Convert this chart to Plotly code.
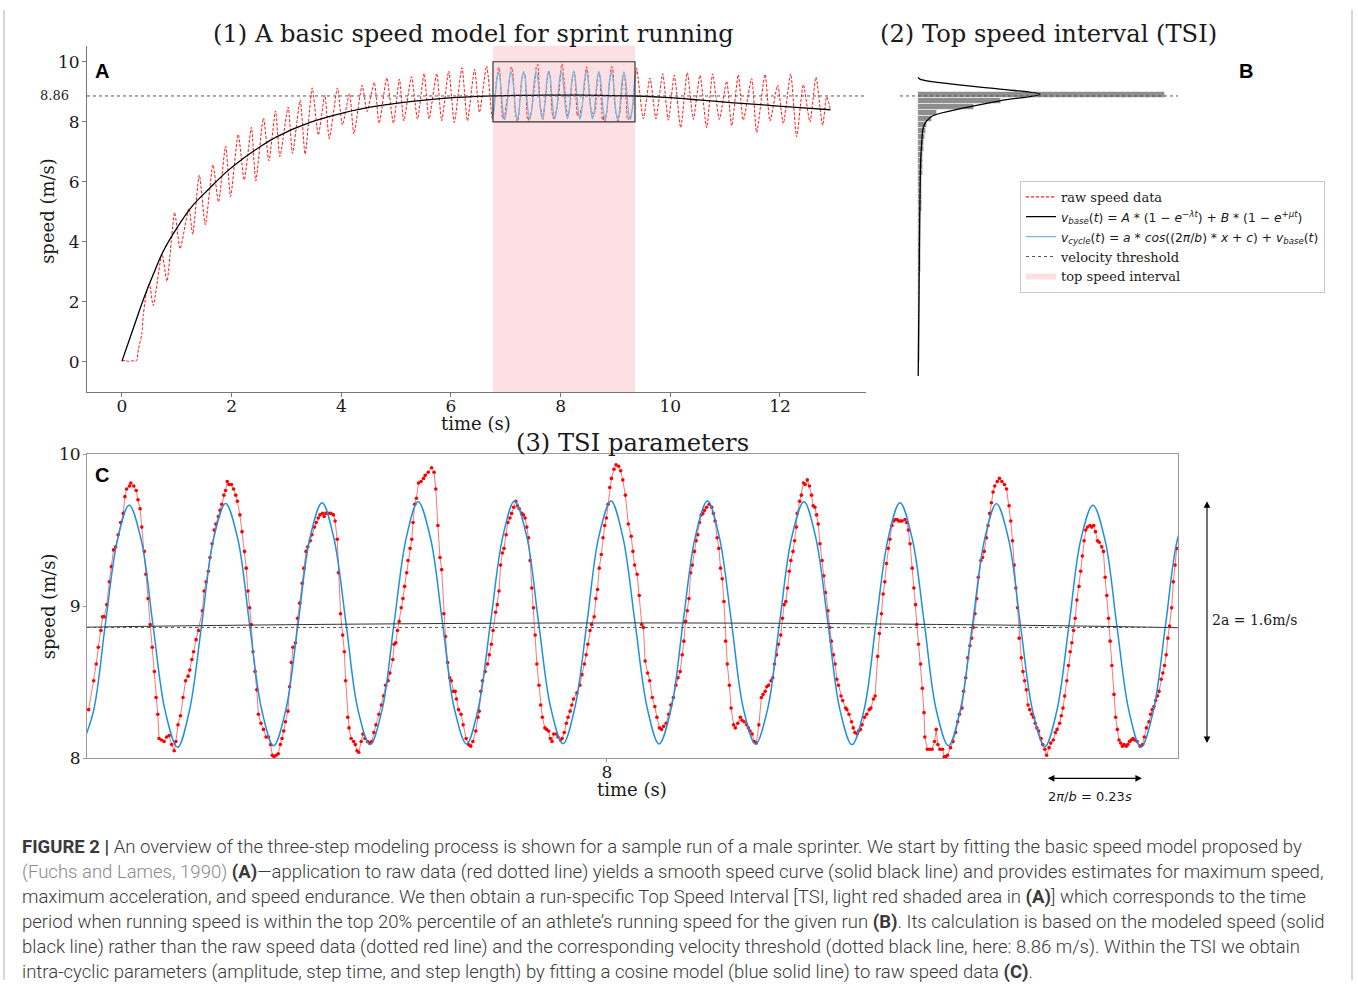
import plotly.graph_objects as go

W, H = 1358, 990
# the photographed page shows the figure slightly shifted / squeezed vertically;
# these two constants compensate so that layout positions land where intended
Y0, SY = 9.3, 0.979
def fx(p):
    return p / W
def fy(p):
    return 1 - ((p - Y0) / SY) / H

SERIF = "DejaVu Serif"
SANS = "DejaVu Sans"

# ------------------------------------------------------------------ data
tsi_start, tsi_end = 6.766, 9.356
threshold = 8.86

x_ticks_a = [0, 2, 4, 6, 8, 10, 12]
y_ticks_a = [0, 2, 4, 6, 8, 10]
x_ticks_c = [8]
y_ticks_c = [8, 9, 10]

# modeled base speed v_base(t)
base_t = [0.00, 0.21, 0.39, 0.57, 0.75, 1.00, 1.30, 1.60, 1.91, 2.21, 2.52, 2.82, 3.43, 4.04,
          4.64, 5.25, 5.86, 6.40, 6.77, 7.40, 8.06, 8.70, 9.36, 9.90, 10.50, 11.10, 11.70, 12.30, 12.92]
base_v = [0.03, 1.14, 2.08, 2.91, 3.68, 4.46, 5.23, 5.79, 6.34, 6.78, 7.17, 7.50, 7.98, 8.30,
          8.52, 8.67, 8.78, 8.84, 8.862, 8.882, 8.890, 8.882, 8.858, 8.81, 8.73, 8.64, 8.56, 8.48, 8.40]

# raw speed before the TSI (turning points of the red dashed line)
raw_early = [(0.00, 0.03), (0.06, 0.05), (0.12, 0.02), (0.18, 0.04), (0.24, 0.03), (0.27, 0.05),
             (0.30, 0.42), (0.36, 0.92), (0.39, 1.58), (0.44, 2.25), (0.50, 2.62), (0.57, 1.88),
             (0.73, 3.60), (0.82, 2.69), (0.96, 4.98), (1.06, 3.77), (1.22, 5.12), (1.29, 4.25),
             (1.41, 6.23), (1.52, 4.57), (1.66, 6.57), (1.76, 5.33), (1.89, 7.19), (1.98, 5.51),
             (2.12, 7.58), (2.23, 6.06), (2.36, 7.82), (2.44, 6.03), (2.58, 8.13), (2.68, 6.70),
             (2.80, 8.36), (2.88, 6.84), (3.03, 8.49), (3.11, 6.95), (3.25, 8.72), (3.34, 6.92),
             (3.47, 9.13), (3.58, 7.56), (3.70, 8.89), (3.78, 7.43), (3.93, 9.13), (4.02, 7.89),
             (4.15, 8.94), (4.23, 7.59), (4.38, 9.22), (4.47, 8.34), (4.60, 9.31), (4.69, 7.95),
             (4.83, 9.46), (4.95, 7.95), (5.06, 9.42), (5.14, 8.03), (5.28, 9.50), (5.39, 8.09),
             (5.51, 9.61), (5.60, 8.09), (5.74, 9.61), (5.83, 8.03), (5.96, 9.69), (6.06, 7.98),
             (6.20, 9.80), (6.30, 8.03), (6.43, 9.75), (6.52, 8.31), (6.65, 9.86), (6.752, 8.12)]

# raw speed samples inside the TSI (red dots of panel C)
raw_tsi = [
    (6.770, 8.32), (6.782, 8.51), (6.788, 8.62), (6.793, 8.73), (6.799, 8.84), (6.803, 8.93), (6.807, 8.93),
    (6.813, 9.01), (6.819, 9.16), (6.824, 9.26), (6.829, 9.37), (6.834, 9.39), (6.840, 9.47), (6.846, 9.55),
    (6.852, 9.61), (6.856, 9.72), (6.860, 9.77), (6.867, 9.79), (6.870, 9.81), (6.877, 9.79), (6.883, 9.76),
    (6.887, 9.70), (6.892, 9.64), (6.896, 9.52), (6.902, 9.36), (6.906, 9.21), (6.911, 9.05), (6.916, 8.88),
    (6.921, 8.73), (6.926, 8.57), (6.930, 8.40), (6.934, 8.29), (6.937, 8.13), (6.943, 8.12), (6.949, 8.11),
    (6.955, 8.14), (6.961, 8.15), (6.967, 8.09), (6.973, 8.05), (6.977, 8.11), (6.982, 8.22), (6.988, 8.28),
    (6.994, 8.40), (7.000, 8.51), (7.006, 8.54), (7.010, 8.58), (7.015, 8.65), (7.019, 8.70), (7.025, 8.78),
    (7.031, 8.84), (7.040, 8.97), (7.044, 9.10), (7.049, 9.16), (7.054, 9.23), (7.058, 9.32), (7.063, 9.41),
    (7.068, 9.50), (7.072, 9.54), (7.078, 9.59), (7.082, 9.63), (7.086, 9.67), (7.091, 9.73), (7.095, 9.76),
    (7.099, 9.82), (7.103, 9.80), (7.109, 9.80), (7.114, 9.77), (7.119, 9.73), (7.123, 9.69), (7.129, 9.60),
    (7.134, 9.49), (7.140, 9.36), (7.144, 9.25), (7.148, 9.10), (7.152, 8.99), (7.156, 8.88), (7.160, 8.70),
    (7.165, 8.57), (7.169, 8.45), (7.173, 8.29), (7.179, 8.23), (7.185, 8.19), (7.191, 8.14), (7.197, 8.14),
    (7.202, 8.09), (7.206, 8.02), (7.210, 8.01), (7.215, 8.02), (7.220, 8.03), (7.225, 8.09), (7.229, 8.13),
    (7.233, 8.18), (7.237, 8.24), (7.243, 8.31), (7.247, 8.47), (7.251, 8.63), (7.255, 8.73), (7.261, 8.76),
    (7.266, 8.92), (7.271, 9.02), (7.277, 9.15), (7.281, 9.25), (7.286, 9.36), (7.290, 9.39), (7.296, 9.43),
    (7.300, 9.47), (7.306, 9.52), (7.310, 9.55), (7.315, 9.58), (7.319, 9.60), (7.325, 9.61), (7.329, 9.59),
    (7.333, 9.61), (7.339, 9.61), (7.345, 9.61), (7.351, 9.60), (7.355, 9.56), (7.360, 9.44), (7.363, 9.22),
    (7.368, 8.95), (7.373, 8.81), (7.377, 8.70), (7.380, 8.51), (7.385, 8.27), (7.388, 8.20), (7.393, 8.13),
    (7.399, 8.11), (7.403, 8.09), (7.407, 8.05), (7.411, 8.04), (7.417, 8.11), (7.421, 8.16), (7.426, 8.13),
    (7.432, 8.11), (7.437, 8.10), (7.442, 8.11), (7.447, 8.17), (7.452, 8.22), (7.459, 8.29), (7.465, 8.35),
    (7.470, 8.41), (7.475, 8.48), (7.481, 8.51), (7.485, 8.56), (7.492, 8.65), (7.495, 8.75), (7.499, 8.76),
    (7.503, 8.84), (7.507, 8.90), (7.512, 8.99), (7.516, 9.05), (7.520, 9.13), (7.525, 9.22), (7.528, 9.30),
    (7.533, 9.38), (7.537, 9.44), (7.540, 9.55), (7.544, 9.67), (7.548, 9.71), (7.553, 9.81), (7.559, 9.82),
    (7.565, 9.84), (7.569, 9.86), (7.576, 9.88), (7.584, 9.91), (7.590, 9.88), (7.594, 9.77), (7.599, 9.53),
    (7.604, 9.32), (7.608, 9.24), (7.613, 8.95), (7.617, 8.80), (7.622, 8.63), (7.627, 8.53), (7.631, 8.51),
    (7.636, 8.44), (7.640, 8.44), (7.643, 8.39), (7.648, 8.32), (7.654, 8.29), (7.659, 8.22), (7.666, 8.13),
    (7.672, 8.09), (7.677, 8.08), (7.682, 8.11), (7.689, 8.18), (7.694, 8.27), (7.697, 8.31), (7.701, 8.44),
    (7.705, 8.51), (7.711, 8.57), (7.717, 8.62), (7.721, 8.68), (7.726, 8.75), (7.730, 8.84), (7.736, 8.96),
    (7.740, 9.01), (7.744, 9.10), (7.748, 9.27), (7.752, 9.35), (7.756, 9.38), (7.761, 9.47), (7.765, 9.55),
    (7.770, 9.58), (7.774, 9.61), (7.779, 9.65), (7.784, 9.69), (7.788, 9.66), (7.792, 9.64), (7.798, 9.61),
    (7.802, 9.60), (7.806, 9.58), (7.810, 9.52), (7.814, 9.45), (7.818, 9.30), (7.822, 9.12), (7.826, 8.99),
    (7.830, 8.81), (7.834, 8.62), (7.839, 8.48), (7.843, 8.35), (7.847, 8.27), (7.853, 8.20), (7.857, 8.19),
    (7.862, 8.18), (7.866, 8.13), (7.870, 8.11), (7.874, 8.16), (7.880, 8.16), (7.884, 8.14), (7.890, 8.12),
    (7.894, 8.13), (7.899, 8.17), (7.904, 8.23), (7.908, 8.27), (7.913, 8.31), (7.917, 8.35), (7.921, 8.39),
    (7.929, 8.43), (7.936, 8.48), (7.941, 8.55), (7.947, 8.62), (7.951, 8.68), (7.955, 8.75), (7.960, 8.84),
    (7.964, 8.88), (7.970, 8.93), (7.974, 9.05), (7.978, 9.11), (7.982, 9.25), (7.987, 9.34), (7.991, 9.45),
    (7.995, 9.53), (7.999, 9.58), (8.003, 9.67), (8.007, 9.78), (8.011, 9.84), (8.017, 9.90), (8.022, 9.93),
    (8.028, 9.92), (8.033, 9.89), (8.038, 9.83), (8.044, 9.73), (8.051, 9.54), (8.058, 9.46), (8.062, 9.36),
    (8.066, 9.27), (8.072, 9.21), (8.077, 9.07), (8.083, 8.88), (8.087, 8.86), (8.091, 8.64), (8.097, 8.56),
    (8.102, 8.51), (8.108, 8.40), (8.114, 8.34), (8.119, 8.27), (8.125, 8.20), (8.130, 8.19), (8.135, 8.21),
    (8.141, 8.23), (8.147, 8.29), (8.152, 8.35), (8.158, 8.40), (8.164, 8.48), (8.169, 8.53), (8.174, 8.57),
    (8.179, 8.68), (8.183, 8.77), (8.187, 8.90), (8.191, 8.97), (8.195, 9.05), (8.199, 9.22), (8.203, 9.27),
    (8.208, 9.36), (8.212, 9.43), (8.216, 9.47), (8.220, 9.55), (8.224, 9.60), (8.228, 9.61), (8.232, 9.63),
    (8.237, 9.65), (8.243, 9.67), (8.249, 9.65), (8.253, 9.61), (8.257, 9.56), (8.262, 9.45), (8.266, 9.38),
    (8.270, 9.25), (8.274, 9.18), (8.278, 9.03), (8.282, 8.77), (8.286, 8.62), (8.291, 8.48), (8.295, 8.33),
    (8.301, 8.22), (8.305, 8.20), (8.311, 8.23), (8.317, 8.27), (8.321, 8.25), (8.326, 8.24), (8.332, 8.22),
    (8.336, 8.20), (8.340, 8.18), (8.345, 8.16), (8.350, 8.11), (8.355, 8.10), (8.361, 8.22), (8.367, 8.40),
    (8.371, 8.42), (8.376, 8.44), (8.380, 8.47), (8.384, 8.48), (8.390, 8.51), (8.394, 8.53), (8.398, 8.62),
    (8.403, 8.68), (8.407, 8.75), (8.413, 8.81), (8.417, 8.92), (8.421, 9.01), (8.425, 9.03), (8.429, 9.12),
    (8.433, 9.23), (8.437, 9.30), (8.442, 9.36), (8.446, 9.43), (8.450, 9.52), (8.452, 9.61), (8.458, 9.69),
    (8.462, 9.73), (8.467, 9.81), (8.471, 9.80), (8.476, 9.83), (8.481, 9.79), (8.486, 9.73), (8.490, 9.66),
    (8.494, 9.65), (8.498, 9.60), (8.502, 9.54), (8.506, 9.41), (8.511, 9.30), (8.515, 9.20), (8.519, 9.09),
    (8.525, 8.97), (8.529, 8.86), (8.533, 8.77), (8.538, 8.68), (8.542, 8.62), (8.546, 8.52), (8.550, 8.48),
    (8.556, 8.41), (8.560, 8.38), (8.567, 8.33), (8.570, 8.32), (8.575, 8.29), (8.581, 8.24), (8.585, 8.20),
    (8.589, 8.17), (8.594, 8.16), (8.598, 8.18), (8.602, 8.19), (8.606, 8.22), (8.612, 8.27), (8.617, 8.29),
    (8.623, 8.32), (8.627, 8.33), (8.633, 8.39), (8.637, 8.41), (8.643, 8.67), (8.647, 8.82), (8.652, 8.95),
    (8.656, 9.08), (8.660, 9.16), (8.664, 9.28), (8.668, 9.38), (8.672, 9.44), (8.677, 9.53), (8.681, 9.56),
    (8.685, 9.57), (8.689, 9.57), (8.693, 9.56), (8.697, 9.56), (8.701, 9.56), (8.708, 9.57), (8.712, 9.55),
    (8.716, 9.50), (8.720, 9.41), (8.725, 9.25), (8.729, 9.12), (8.733, 9.01), (8.736, 8.88), (8.740, 8.75),
    (8.745, 8.62), (8.749, 8.46), (8.753, 8.30), (8.755, 8.14), (8.761, 8.06), (8.766, 8.06), (8.772, 8.06),
    (8.778, 8.11), (8.782, 8.19), (8.786, 8.09), (8.791, 8.06), (8.797, 8.06), (8.801, 8.01), (8.805, 8.01),
    (8.809, 8.02), (8.816, 8.07), (8.822, 8.11), (8.828, 8.17), (8.833, 8.24), (8.837, 8.29), (8.843, 8.33),
    (8.847, 8.44), (8.852, 8.53), (8.857, 8.66), (8.862, 8.74), (8.866, 8.79), (8.870, 8.86), (8.874, 8.95),
    (8.878, 9.05), (8.882, 9.19), (8.888, 9.30), (8.892, 9.32), (8.896, 9.36), (8.901, 9.45), (8.905, 9.53),
    (8.909, 9.61), (8.913, 9.68), (8.917, 9.75), (8.921, 9.79), (8.927, 9.82), (8.932, 9.84), (8.938, 9.82),
    (8.944, 9.80), (8.949, 9.77), (8.955, 9.66), (8.959, 9.56), (8.963, 9.43), (8.967, 9.27), (8.971, 9.12),
    (8.975, 8.99), (8.979, 8.79), (8.984, 8.66), (8.988, 8.57), (8.992, 8.51), (8.996, 8.45), (9.000, 8.35),
    (9.004, 8.32), (9.009, 8.29), (9.013, 8.27), (9.017, 8.23), (9.021, 8.20), (9.025, 8.18), (9.031, 8.13),
    (9.035, 8.09), (9.040, 8.06), (9.044, 8.02), (9.050, 8.07), (9.054, 8.10), (9.060, 8.12), (9.065, 8.17),
    (9.069, 8.19), (9.075, 8.23), (9.079, 8.28), (9.083, 8.33), (9.087, 8.41), (9.092, 8.51), (9.096, 8.61),
    (9.100, 8.70), (9.104, 8.76), (9.108, 8.84), (9.112, 8.92), (9.116, 9.04), (9.121, 9.13), (9.125, 9.23),
    (9.129, 9.33), (9.133, 9.43), (9.137, 9.50), (9.141, 9.52), (9.147, 9.53), (9.151, 9.52), (9.156, 9.53),
    (9.160, 9.49), (9.165, 9.43), (9.169, 9.42), (9.175, 9.39), (9.179, 9.36), (9.183, 9.19), (9.187, 9.07),
    (9.191, 8.92), (9.195, 8.77), (9.199, 8.61), (9.204, 8.42), (9.208, 8.27), (9.212, 8.19), (9.216, 8.12),
    (9.220, 8.10), (9.224, 8.08), (9.228, 8.09), (9.233, 8.08), (9.237, 8.09), (9.241, 8.11), (9.245, 8.12),
    (9.249, 8.13), (9.253, 8.12), (9.259, 8.11), (9.266, 8.08), (9.272, 8.09), (9.276, 8.14), (9.281, 8.20),
    (9.287, 8.24), (9.291, 8.29), (9.295, 8.32), (9.299, 8.34), (9.303, 8.38), (9.307, 8.41), (9.311, 8.44),
    (9.316, 8.52), (9.320, 8.56), (9.324, 8.61), (9.328, 8.68), (9.332, 8.79), (9.336, 8.87), (9.341, 8.99),
    (9.345, 9.16), (9.349, 9.27), (9.353, 9.38)]

# raw speed after the TSI (turning points)
raw_late = [(9.386, 9.79), (9.508, 8.10), (9.629, 9.46), (9.739, 8.10), (9.860, 9.60), (9.964, 8.05),
            (10.073, 9.55), (10.189, 7.80), (10.310, 9.64), (10.420, 8.08), (10.541, 9.55), (10.663, 7.80),
            (10.772, 9.60), (10.894, 8.08), (11.028, 9.35), (11.119, 7.86), (11.240, 9.57), (11.331, 8.05),
            (11.483, 9.44), (11.575, 7.64), (11.727, 9.58), (11.818, 8.02), (11.958, 9.22), (12.061, 7.94),
            (12.195, 9.60), (12.304, 7.50), (12.426, 9.24), (12.547, 7.99), (12.657, 9.49), (12.778, 7.88),
            (12.851, 8.83), (12.924, 8.38)]

# fitted cycle model v_cycle(t) read at eighth-period steps
cycle = [
    (6.752, 8.072), (6.781, 8.305), (6.809, 8.868), (6.838, 9.431), (6.866, 9.664), (6.895, 9.431),
    (6.923, 8.868), (6.952, 8.305), (6.981, 8.072), (7.009, 8.311), (7.038, 8.874), (7.066, 9.437),
    (7.095, 9.675), (7.124, 9.442), (7.152, 8.879), (7.181, 8.316), (7.209, 8.083), (7.238, 8.319),
    (7.267, 8.882), (7.295, 9.445), (7.324, 9.680), (7.352, 9.448), (7.381, 8.885), (7.409, 8.322),
    (7.438, 8.090), (7.467, 8.325), (7.495, 8.888), (7.524, 9.451), (7.552, 9.686), (7.581, 9.453),
    (7.610, 8.890), (7.638, 8.327), (7.667, 8.094), (7.695, 8.330), (7.724, 8.893), (7.753, 9.456),
    (7.781, 9.691), (7.810, 9.457), (7.838, 8.894), (7.867, 8.331), (7.896, 8.096), (7.924, 8.331),
    (7.953, 8.894), (7.981, 9.457), (8.010, 9.691), (8.038, 9.456), (8.067, 8.893), (8.096, 8.330),
    (8.124, 8.094), (8.153, 8.330), (8.181, 8.893), (8.210, 9.456), (8.239, 9.691), (8.267, 9.456),
    (8.296, 8.893), (8.324, 8.330), (8.353, 8.094), (8.382, 8.327), (8.410, 8.890), (8.439, 9.453),
    (8.468, 9.686), (8.496, 9.451), (8.525, 8.888), (8.553, 8.325), (8.582, 8.090), (8.611, 8.322),
    (8.639, 8.885), (8.668, 9.448), (8.696, 9.680), (8.725, 9.445), (8.754, 8.882), (8.782, 8.319),
    (8.811, 8.083), (8.839, 8.315), (8.868, 8.878), (8.897, 9.441), (8.925, 9.673), (8.954, 9.438),
    (8.982, 8.875), (9.011, 8.312), (9.040, 8.077), (9.068, 8.308), (9.097, 8.871), (9.125, 9.434),
    (9.154, 9.664), (9.183, 9.431), (9.211, 8.868), (9.240, 8.305), (9.268, 8.072), (9.297, 8.305),
    (9.326, 8.868), (9.354, 9.431), (9.383, 9.664)]

# panel B: histogram of modeled speed (bin centres, counts) and density curve
hist_speed = [0.1, 0.3, 0.5, 0.7, 0.9, 1.1, 1.3, 1.5, 1.7, 1.9, 2.1, 2.3, 2.5, 2.7, 2.9, 3.1, 3.3, 3.5,
              3.7, 3.9, 4.1, 4.3, 4.5, 4.7, 4.9, 5.1, 5.3, 5.5, 5.7, 5.9, 6.1, 6.3, 6.5, 6.7, 6.9, 7.1,
              7.3, 7.5, 7.7, 7.9, 8.1, 8.3, 8.5, 8.7, 8.9]
hist_count = [4, 4, 4, 4, 4, 4, 4, 4, 5, 5, 5, 5, 5, 5, 5, 6, 6, 6, 6, 6, 6, 7, 7, 7, 7, 8, 8, 8, 8, 9,
              9, 10, 10, 11, 11, 12, 13, 14, 16, 18, 28, 38, 113, 168, 500]
kde_speed = [-0.47, 0.5, 2.0, 4.0, 6.0, 6.7, 7.4, 7.81, 8.03, 8.2, 8.48, 8.7, 8.92, 9.09, 9.26, 9.42, 9.48]
kde_density = [0.5, 1, 2, 3, 4.5, 5.5, 8, 10.7, 17.6, 30, 98.6, 166, 247, 166, 65, 4, 0.5]

# ------------------------------------------------------------------ derived
early_t, early_v = zip(*raw_early)
tsi_t, tsi_v = zip(*raw_tsi)
late_t, late_v = zip(*raw_late)
cyc_t, cyc_v = zip(*cycle)
raw_all_t = list(early_t) + list(tsi_t) + list(late_t)
raw_all_v = list(early_v) + list(tsi_v) + list(late_v)

RED = "#ff1a1a"
BLUE_C = "#1f90dc"
BLUE_A = "#6cbdea"
PINK = "#fde0e4"
MATH = "font-family:DejaVu Sans;font-size:12.3px"

fig = go.Figure()

# legend-only entries (order of reference legend)
fig.add_trace(go.Scatter(x=[None], y=[None], mode="lines", name="raw speed data",
                         line=dict(color=RED, width=1.2, dash="3px,2px"), legendrank=1))
fig.add_trace(go.Scatter(x=[None], y=[None], mode="lines", legendrank=2,
                         name=f"<span style='{MATH}'><i>v</i><sub><i>base</i></sub>(<i>t</i>) = <i>A</i> * (1 − <i>e</i><sup>−<i>λt</i></sup>) + <i>B</i> * (1 − <i>e</i><sup>+<i>μt</i></sup>)</span>",
                         line=dict(color="black", width=1.3)))
fig.add_trace(go.Scatter(x=[None], y=[None], mode="lines", legendrank=3,
                         name=f"<span style='{MATH}'><i>v</i><sub><i>cycle</i></sub>(<i>t</i>) = <i>a</i> * <i>cos</i>((2<i>π</i>/<i>b</i>) * <i>x</i> + <i>c</i>) + <i>v</i><sub><i>base</i></sub>(<i>t</i>)</span>",
                         line=dict(color=BLUE_A, width=1.3)))
fig.add_trace(go.Scatter(x=[None], y=[None], mode="lines", name="velocity threshold",
                         legendrank=4, line=dict(color="#555", width=1, dash="dot")))
fig.add_trace(go.Scatter(x=[None], y=[None], mode="none", fill="toself", fillcolor=PINK,
                         name="top speed interval", legendrank=5))

# panel A
fig.add_trace(go.Scatter(x=raw_all_t, y=raw_all_v, mode="lines", showlegend=False,
                         line=dict(color=RED, width=1, dash="3px,1.6px", shape="spline", smoothing=0.6),
                         xaxis="x", yaxis="y"))
fig.add_trace(go.Scatter(x=cyc_t, y=cyc_v, mode="lines", showlegend=False,
                         line=dict(color=BLUE_A, width=1.2, shape="spline"), xaxis="x", yaxis="y"))
fig.add_trace(go.Scatter(x=base_t, y=base_v, mode="lines", showlegend=False,
                         line=dict(color="black", width=1.3, shape="spline"), xaxis="x", yaxis="y"))

# panel B
fig.add_trace(go.Bar(x=hist_count, y=hist_speed, orientation="h", width=0.2, showlegend=False,
                     marker=dict(color="#8e8e8e", line=dict(color="white", width=0.6)),
                     xaxis="x2", yaxis="y2"))
fig.add_trace(go.Scatter(x=kde_density, y=kde_speed, mode="lines", showlegend=False,
                         line=dict(color="black", width=1.3, shape="spline"), xaxis="x2", yaxis="y2"))

# panel C
fig.add_trace(go.Scatter(x=tsi_t, y=tsi_v, mode="lines+markers", showlegend=False,
                         line=dict(color="rgba(255,40,40,0.65)", width=1),
                         marker=dict(color="#ff0000", size=3.6), xaxis="x3", yaxis="y3"))
fig.add_trace(go.Scatter(x=cyc_t, y=cyc_v, mode="lines", showlegend=False,
                         line=dict(color=BLUE_C, width=1.5, shape="spline"), xaxis="x3", yaxis="y3"))
fig.add_trace(go.Scatter(x=base_t, y=base_v, mode="lines", showlegend=False,
                         line=dict(color="#333", width=1, shape="spline"), xaxis="x3", yaxis="y3"))

shapes = [
    dict(type="rect", xref="x", yref="y domain", x0=tsi_start, x1=tsi_end, y0=0, y1=1,
         fillcolor=PINK, line=dict(width=0), layer="below"),
    dict(type="line", xref="x domain", yref="y", x0=0, x1=1, y0=threshold, y1=threshold,
         line=dict(color="#555", width=1, dash="dot")),
    dict(type="rect", xref="x", yref="y", x0=tsi_start, x1=tsi_end, y0=8, y1=10,
         line=dict(color="#333", width=1.2)),
    dict(type="line", xref="x2 domain", yref="y2", x0=0, x1=1, y0=threshold, y1=threshold,
         line=dict(color="#555", width=1, dash="dot")),
    dict(type="line", xref="x3 domain", yref="y3", x0=0, x1=1, y0=threshold, y1=threshold,
         line=dict(color="#555", width=1, dash="dot")),
    # thin page frame (left and right edges)
    dict(type="line", xref="paper", yref="paper", x0=fx(4), x1=fx(4), y0=0, y1=1,
         line=dict(color="#b0b0b0", width=1)),
    dict(type="line", xref="paper", yref="paper", x0=fx(1352), x1=fx(1352), y0=0, y1=1,
         line=dict(color="#b0b0b0", width=1)),
]

ann = []
def text(x, y, s, size, family=SERIF, xa="center", ya="middle", color="#1a1a1a", angle=0, weight=None):
    f = dict(family=family, size=size, color=color)
    if weight:
        f["weight"] = weight
    ann.append(dict(x=x, y=y, xref="paper", yref="paper", text=s, showarrow=False,
                    xanchor=xa, yanchor=ya, textangle=angle, font=f))

text(fx(473), fy(33), "(1) A basic speed model for sprint running", 24.2)
text(fx(1048), fy(33), "(2) Top speed interval (TSI)", 24.2)
text(fx(632), fy(442), "(3) TSI parameters", 24.2)
text(fx(476), fy(422), "time (s)", 18)
text(fx(632), fy(788), "time (s)", 18)
text(fx(48), fy(210), "speed (m/s)", 18, angle=-90)
text(fx(48), fy(605), "speed (m/s)", 18, angle=-90)
text(fx(102), fy(70), "<b>A</b>", 20, family="Liberation Sans", color="black")
text(fx(1246), fy(70), "<b>B</b>", 20, family="Liberation Sans", color="black")
text(fx(102), fy(474), "<b>C</b>", 20, family="Liberation Sans", color="black")
text(fx(1210), fy(619), "2a = 1.6m/s", 14, xa="left")
text(fx(1090), fy(795), "2<i>π</i>/<i>b</i> = 0.23<i>s</i>", 13, family=SANS)
ann.append(dict(x=fx(71), y=threshold, xref="paper", yref="y", text="8.86", showarrow=False,
                xanchor="right", yanchor="middle", font=dict(family=SERIF, size=13, color="#1a1a1a")))

# double arrows in panel C
ann.append(dict(x=fx(1207), y=9.69, xref="paper", yref="y3", ax=0, ay=8.09, axref="pixel",
                ayref="y3", text="", showarrow=True, arrowside="end+start", arrowhead=2,
                arrowsize=1.2, arrowwidth=1.1, arrowcolor="black"))
ann.append(dict(x=9.047, y=fy(777), xref="x3", yref="paper", ax=9.274, ay=0, axref="x3",
                ayref="pixel", text="", showarrow=True, arrowside="end+start", arrowhead=2,
                arrowsize=1.2, arrowwidth=1.1, arrowcolor="black"))

caption = [
    "<b>FIGURE 2 |</b> An overview of the three-step modeling process is shown for a sample run of a male sprinter. We start by fitting the basic speed model proposed by",
    "<span style='color:#8a8a8a'>(Fuchs and Lames, 1990)</span> <b>(A)</b>—application to raw data (red dotted line) yields a smooth speed curve (solid black line) and provides estimates for maximum speed,",
    "maximum acceleration, and speed endurance. We then obtain a run-specific Top Speed Interval [TSI, light red shaded area in <b>(A)</b>] which corresponds to the time",
    "period when running speed is within the top 20% percentile of an athlete’s running speed for the given run <b>(B)</b>. Its calculation is based on the modeled speed (solid",
    "black line) rather than the raw speed data (dotted red line) and the corresponding velocity threshold (dotted black line, here: 8.86 m/s). Within the TSI we obtain",
    "intra-cyclic parameters (amplitude, step time, and step length) by fitting a cosine model (blue solid line) to raw speed data <b>(C)</b>.",
]
for i, line in enumerate(caption):
    text(fx(20), fy(846 + 25 * i), line, 18.55, family="Roboto", xa="left", color="#3a3a3a", weight=300)

axis_font = dict(family=SERIF, size=17, color="#1a1a1a")
fig.update_layout(
    width=W, height=H, margin=dict(l=0, r=0, t=0, b=0), autosize=False,
    paper_bgcolor="white", plot_bgcolor="rgba(0,0,0,0)",
    showlegend=True,
    legend=dict(x=fx(1020), y=fy(180), xanchor="left", yanchor="top", bgcolor="white",
                bordercolor="#c8c8c8", borderwidth=1, font=dict(family=SERIF, size=13, color="#1a1a1a"),
                itemwidth=30, traceorder="normal"),
    xaxis=dict(domain=[fx(87), fx(866)], range=[-0.638, 13.569], anchor="y", tickvals=x_ticks_a,
               showline=True, linecolor="#777", ticks="outside", ticklen=4, tickcolor="#777",
               ticklabelstandoff=-5,
               showgrid=False, zeroline=False, tickfont=axis_font),
    yaxis=dict(domain=[fy(391), fy(45)], range=[-1.0, 10.533], anchor="x", tickvals=y_ticks_a,
               showline=True, linecolor="#777", ticks="outside", ticklen=4, tickcolor="#777",
               ticklabelstandoff=-1,
               showgrid=False, zeroline=False, tickfont=axis_font),
    xaxis2=dict(domain=[fx(900), fx(1178)], range=[-36.4, 526.4], anchor="y2", visible=False),
    yaxis2=dict(domain=[fy(391), fy(45)], range=[-1.0, 10.533], anchor="x2", visible=False),
    xaxis3=dict(domain=[fx(87), fx(1178)], range=[tsi_start, tsi_end], anchor="y3", tickvals=x_ticks_c,
                showline=True, mirror=True, linecolor="#999", ticks="outside", ticklen=3, tickcolor="#999",
                ticklabelstandoff=-5,
                showgrid=False, zeroline=False, tickfont=axis_font),
    yaxis3=dict(domain=[fy(757), fy(453)], range=[8, 10], anchor="x3", tickvals=y_ticks_c,
                showline=True, mirror=True, linecolor="#999", ticks="outside", ticklen=3, tickcolor="#999",
                ticklabelstandoff=-1,
                showgrid=False, zeroline=False, tickfont=axis_font),
    shapes=shapes, annotations=ann, bargap=0,
)

post = ("document.documentElement.style.margin='0px';document.body.style.margin='0px';"
        "document.documentElement.style.overflow='hidden';document.body.style.overflow='hidden';"
        "var gd=document.getElementById('{plot_id}');gd.style.position='absolute';"
        "gd.style.left='0px';gd.style.top='0px';")
fig.write_html("out.html", config={"responsive": False, "displayModeBar": False}, post_script=post)
